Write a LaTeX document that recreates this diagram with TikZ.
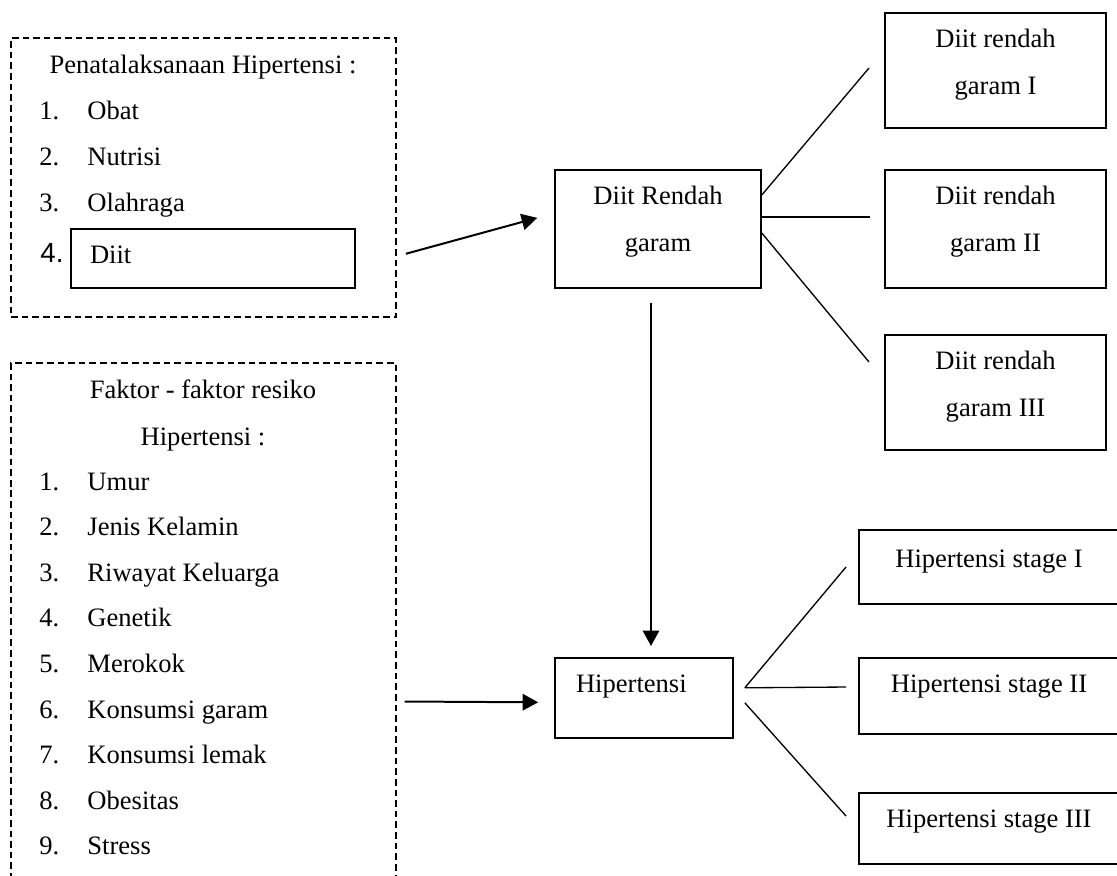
\documentclass[tikz,border=0pt]{standalone}
\usepackage{fontspec}
\setmainfont{Liberation Serif}
\newfontfamily\arialfont{Liberation Sans}
\usetikzlibrary{arrows.meta, calc}

\begin{document}
\begin{tikzpicture}[x=0.4517pt, y=-0.4517pt, font=\fontsize{12}{21}\selectfont,
  box/.style={draw, line width=0.75pt, inner sep=0pt, anchor=north, align=center,
              text height=15.8pt},
  twoline/.style={box, text height=36.8pt},
  lbox/.style={box, align=left},
  dbox/.style={draw, line width=0.6pt, dash pattern=on 3pt off 1.8pt, minimum width=173.9pt},
  itm/.style={anchor=base west, inner sep=0pt},
  ttl/.style={anchor=base, inner sep=0pt},
  arr/.style={-{Triangle[length=7pt, width=7.4pt]}, line width=0.9pt},
  ln/.style={line width=0.6pt}]
  \useasboundingbox (0,0) rectangle (1117,875);
  \clip (0,0) rectangle (1117,875);

  \node[dbox, minimum height=126pt] (pen) at (203.5,177.5) {};
  \node[ttl] (pentitle) at (203,73) {Penatalaksanaan Hipertensi :};
  \foreach \txt [count=\i] in {Obat, Nutrisi, Olahraga} {
    \node[itm] (pn\i) at (39,73+46*\i) {\i.};
    \node[itm] (pt\i) at (87,73+46*\i) {\txt};
  }
  \node[itm, font=\arialfont\fontsize{12.5}{15}\selectfont] (pn4) at (40,262) {4.};
  \node[lbox, inner xsep=8.6pt, text width=111.1pt, text depth=10.8pt] (dt) at (213,228) {Diit};

  \node[dbox, minimum height=242.6pt] (risk) at (203.5,631.5) {};
  \node[ttl] (risktitle) at (203,398) {Faktor - faktor resiko};
  \node[ttl] (risktitle2) at (203,445) {Hipertensi :};
  \foreach \txt [count=\i] in {Umur, Jenis Kelamin, Riwayat Keluarga, Genetik, Merokok,
                               Konsumsi garam, Konsumsi lemak, Obesitas, Stress} {
    \node[itm] (rn\i) at (39,444.4+45.6*\i) {\i.};
    \node[itm] (rt\i) at (87,444.4+45.6*\i) {\txt};
  }

  \node[twoline, minimum width=93pt, text depth=16.5pt] (drg) at (658,169) {Diit Rendah\\garam};
  \node[lbox, inner xsep=9.5pt, text width=61.4pt, text depth=20.3pt] (hip) at (644,657) {Hipertensi};

  \node[twoline, minimum width=99.8pt, text depth=15.1pt] (r1) at (995.5,12) {Diit rendah\\garam I};
  \node[twoline, minimum width=99.8pt, text depth=16.5pt] (r2) at (995.5,169) {Diit rendah\\garam II};
  \node[twoline, minimum width=99.8pt, text depth=15.1pt] (r3) at (995.5,334) {Diit rendah\\garam III};

  \node[box, minimum width=117.4pt, text height=17.2pt, text depth=16.3pt] (s1) at (989,529) {Hipertensi stage I};
  \node[box, minimum width=117.4pt, text depth=18.5pt] (s2) at (989,657) {Hipertensi stage II};
  \node[box, minimum width=117.4pt, text depth=16.3pt] (s3) at (989,792) {Hipertensi stage III};

  \draw[arr] ($(dt.east)+(50,-4.5)$) -- ($(drg.west)+(-17,-11)$);
  \draw[arr] ($(risk.east)+(8,70)$) -- ($(hip.west)+(-16,4.5)$);
  \draw[arr] ($(drg.south)+(-7,14)$) -- ($(hip.north)+(7,-11)$);

  \coordinate (g1) at (869,68);
  \coordinate (g2) at (870,217);
  \coordinate (g3) at (869,362);
  \draw[ln] ($(drg.north east)+(0,26)$) -- (g1);
  \draw[ln] ($(drg.north east)+(0,48)$) -- (g2);
  \draw[ln] ($(drg.north east)+(0,64)$) -- (g3);

  \coordinate (h1) at (846,567);
  \coordinate (h2) at (846,687);
  \coordinate (h3) at (846,816);
  \draw[ln] ($(hip.east)+(11,-10)$) -- (h1);
  \draw[ln] ($(hip.east)+(11,-10)$) -- (h2);
  \draw[ln] ($(hip.east)+(11,5)$) -- (h3);
\end{tikzpicture}
\end{document}
